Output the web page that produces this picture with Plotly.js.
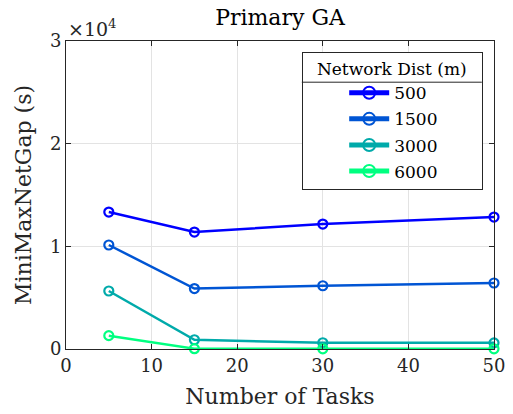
<!DOCTYPE html>
<html>
<head>
<meta charset="utf-8">
<script src="https://cdn.plot.ly/plotly-3.0.1.min.js"></script>
<style>html,body{margin:0;padding:0;background:#fff;}#chart{width:513px;height:414px;}</style>
</head>
<body>
<div id="chart"></div>
<script>
const tasks = [5, 15, 30, 50];
const seriesNames = ['500', '1500', '3000', '6000'];
const gap500 = [13340, 11390, 12170, 12850];
const gap1500 = [10130, 5890, 6160, 6430];
const gap3000 = [5650, 900, 610, 600];
const gap6000 = [1300, 30, 20, 20];
const colors = ['#0000FF', '#0055D4', '#00AAAA', '#00FF80'];
const xTicks = [0, 10, 20, 30, 40, 50];
const yTickVals = [0, 10000, 20000, 30000];
const yTickText = ['0', '1', '2', '3'];

const font = 'DejaVu Serif';
const allSeries = [gap500, gap1500, gap3000, gap6000];
const traces = allSeries.map((ys, i) => ({
  x: tasks, y: ys, name: seriesNames[i], type: 'scatter', mode: 'lines+markers',
  legendgroup: 'g' + i,
  line: {color: colors[i], width: 2.5},
  marker: {symbol: 'circle-open', size: 9, color: colors[i], line: {width: 2.2, color: colors[i]}},
  cliponaxis: false
}));

const layout = {
  width: 513, height: 414,
  margin: {l: 66, r: 19, t: 41, b: 65},
  paper_bgcolor: '#fff', plot_bgcolor: '#fff',
  font: {family: font, color: '#262626', size: 17},
  title: {text: 'Primary GA', font: {family: font, size: 22, color: '#000'}, x: 0.5, xanchor: 'center', y: 0.958, yanchor: 'middle', xref: 'paper'},
  xaxis: {
    range: [0, 50], tickvals: xTicks, ticks: 'inside', ticklen: 5, tickcolor: '#262626',
    showgrid: true, gridcolor: '#e3e3e3', gridwidth: 1,
    showline: true, linecolor: '#262626', linewidth: 1, mirror: 'ticks', zeroline: false,
    tickfont: {family: font, size: 18, color: '#262626'},
    title: {text: 'Number of Tasks', font: {family: font, size: 22, color: '#262626'}, standoff: 14}
  },
  yaxis: {
    range: [0, 30000], tickvals: yTickVals, ticktext: yTickText, ticks: 'inside', ticklen: 5, tickcolor: '#262626',
    showgrid: true, gridcolor: '#e3e3e3', gridwidth: 1,
    showline: true, linecolor: '#262626', linewidth: 1, mirror: 'ticks', zeroline: false,
    tickfont: {family: font, size: 18, color: '#262626'},
    title: {text: 'MiniMaxNetGap (s)', font: {family: font, size: 22, color: '#262626'}, standoff: 12}
  },
  legend: {
    x: 0.551, y: 0.964, xanchor: 'left', yanchor: 'top',
    bgcolor: '#fff', bordercolor: '#262626', borderwidth: 1,
    font: {family: font, size: 17, color: '#000'},
    title: {text: 'Network Dist (m)', side: 'top center', font: {family: font, size: 17, color: '#000'}},
    itemwidth: 40, tracegroupgap: 1, itemsizing: 'constant'
  },
  annotations: [{
    xref: 'paper', yref: 'paper', x: 0, y: 1, xanchor: 'left', yanchor: 'bottom', xshift: 0, yshift: -1,
    text: '×10<sup>4</sup>', showarrow: false, font: {family: font, size: 19, color: '#262626'}
  }],
  showlegend: true
};

function fixLegend() {
  const leg = document.querySelector('.legend');
  if (!leg) return;
  const bg = leg.querySelector('rect.bg');
  const title = leg.querySelector('.legendtitletext');
  if (!bg || !title) return;
  const targetW = 180;
  bg.setAttribute('width', targetW);
  document.querySelectorAll('clipPath').forEach(cp => {
    if (cp.id && cp.id.indexOf('legend') >= 0) {
      const r = cp.querySelector('rect');
      if (r) r.setAttribute('width', targetW + 10);
    }
  });
  title.setAttribute('text-anchor', 'middle');
  title.setAttribute('x', targetW / 2);
  title.querySelectorAll('tspan').forEach(t => t.setAttribute('x', targetW / 2));
  const groups = leg.querySelectorAll('.traces');
  let maxW = 0;
  groups.forEach(g => { const b = g.getBBox(); maxW = Math.max(maxW, b.x + b.width); });
  const dx = (targetW - maxW) / 2 - 2;
  groups.forEach(g => {
    const tr = g.getAttribute('transform') || '';
    const m = tr.match(/translate\(([-\d.]+)[ ,]+([-\d.]+)\)/);
    if (m) g.setAttribute('transform', 'translate(' + (parseFloat(m[1]) + dx) + ',' + m[2] + ')');
  });
  const tb = title.getBBox();
  const y = tb.y + tb.height + 3;
  const ns = 'http://www.w3.org/2000/svg';
  const line = document.createElementNS(ns, 'line');
  line.setAttribute('x1', 0); line.setAttribute('x2', targetW);
  line.setAttribute('y1', y); line.setAttribute('y2', y);
  line.setAttribute('stroke', '#262626'); line.setAttribute('stroke-width', 1);
  leg.appendChild(line);
}

Plotly.newPlot('chart', traces, layout, {staticPlot: true, displayModeBar: false}).then(fixLegend);
</script>
</body>
</html>
